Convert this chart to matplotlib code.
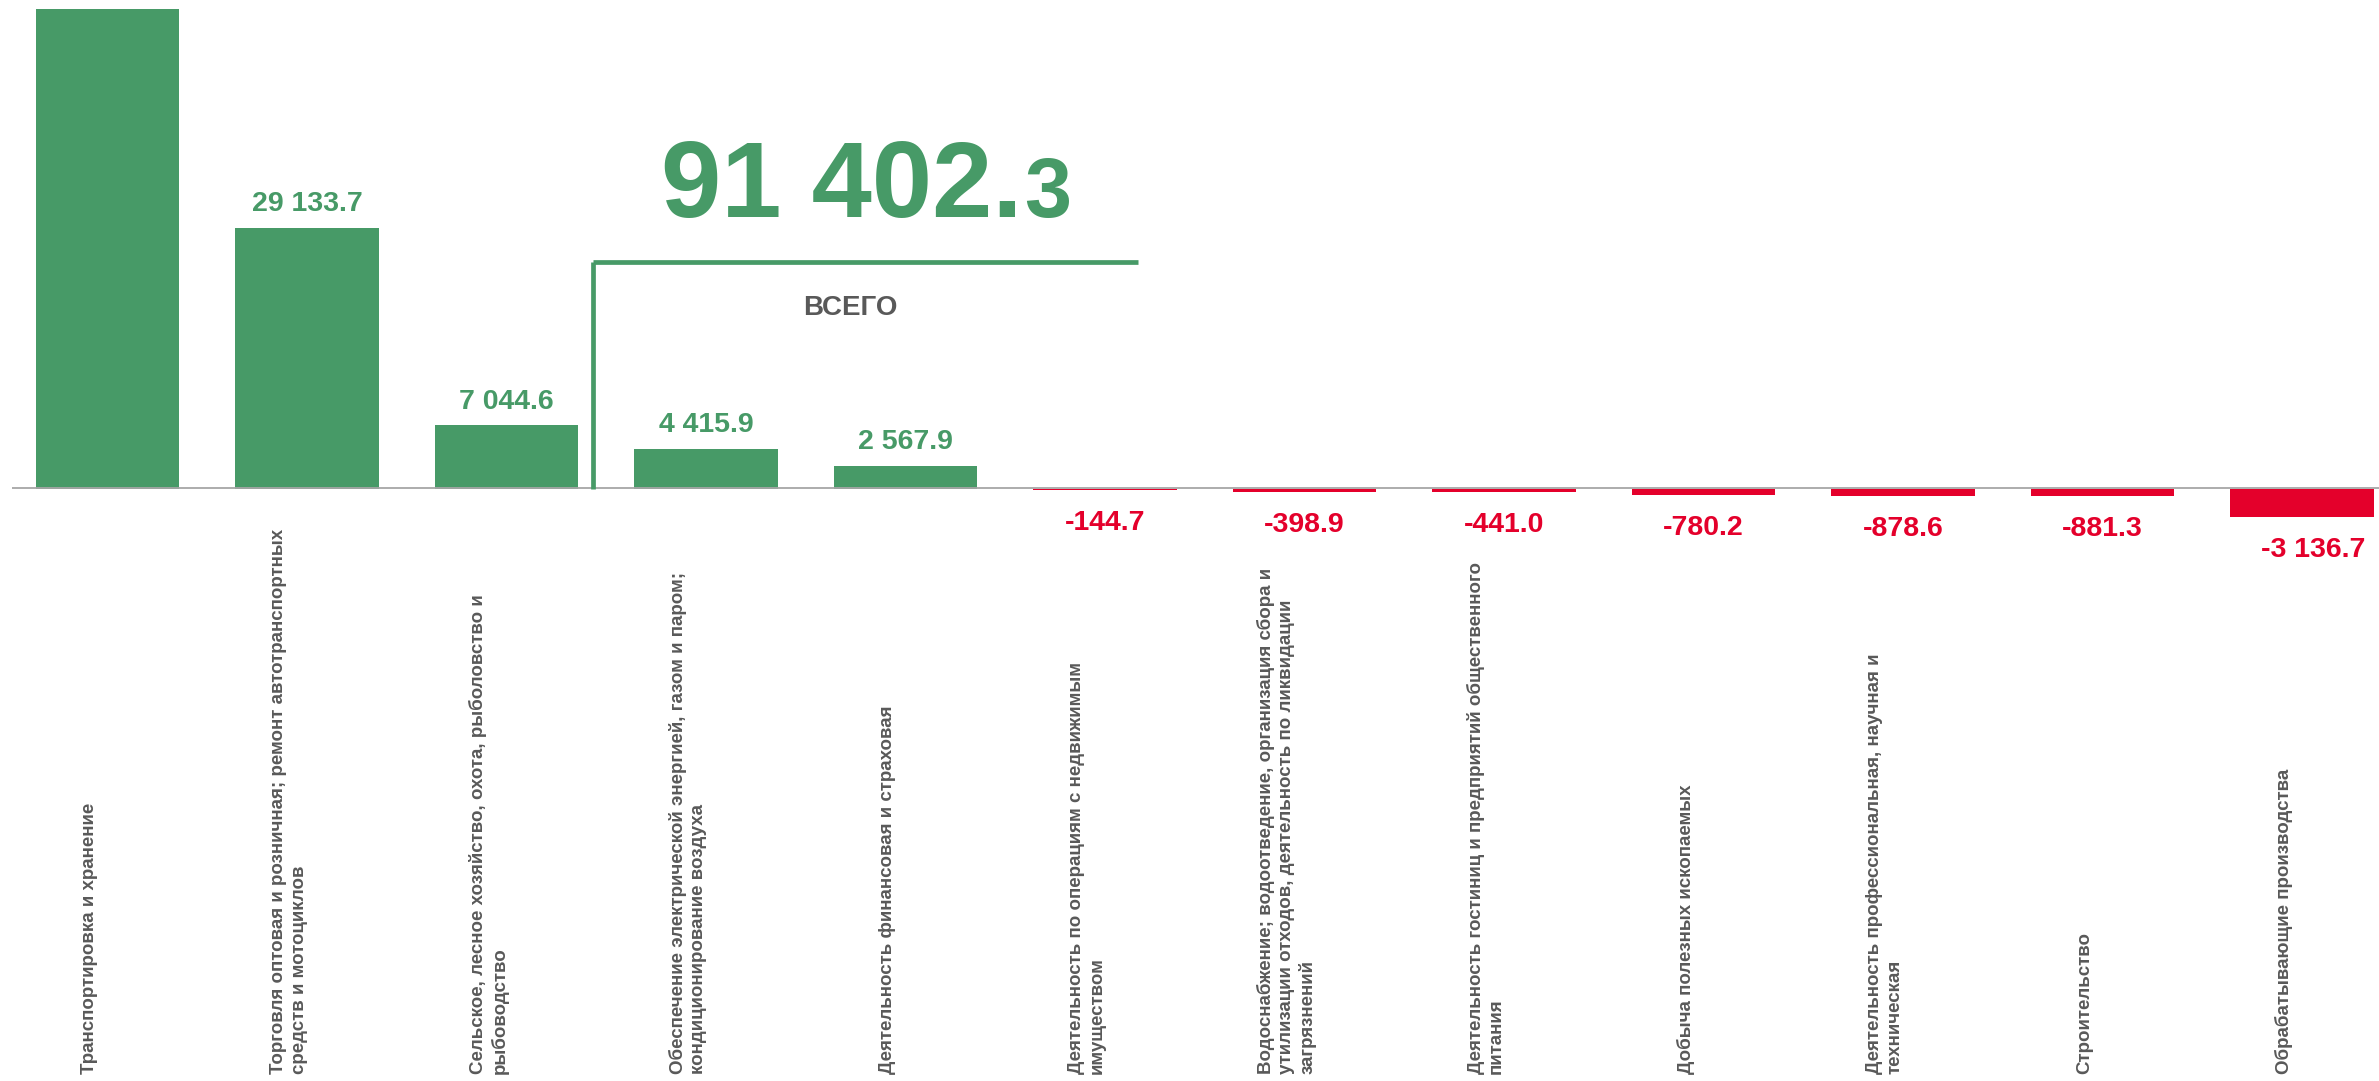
import matplotlib
matplotlib.use('Agg')
import matplotlib.pyplot as plt
import matplotlib.transforms as mtransforms
import numpy as np

plt.rcParams['font.family'] = ['Liberation Sans', 'DejaVu Sans']

# данные
categories = [
    'Транспортировка и хранение',
    'Торговля оптовая и розничная; ремонт автотранспортных\nсредств и мотоциклов',
    'Сельское, лесное хозяйство, охота, рыболовство и\nрыбоводство',
    'Обеспечение электрической энергией, газом и паром;\nкондиционирование воздуха',
    'Деятельность финансовая и страховая',
    'Деятельность по операциям с недвижимым\nимуществом',
    'Водоснабжение; водоотведение, организация сбора и\nутилизации отходов, деятельность по ликвидации\nзагрязнений',
    'Деятельность гостиниц и предприятий общественного\nпитания',
    'Добыча полезных ископаемых',
    'Деятельность профессиональная, научная и\nтехническая',
    'Строительство',
    'Обрабатывающие производства',
]
values = [54901.6, 29133.7, 7044.6, 4415.9, 2567.9, -144.7, -398.9,
          -441.0, -780.2, -878.6, -881.3, -3136.7]
total_main = '91 402.'
total_tail = '3'
total_label = 'ВСЕГО'

GREEN = '#479A67'
RED = '#E4002B'
GRAY = '#595959'

W, H = 2379, 1081
fig = plt.figure(figsize=(W / 100, H / 100), dpi=100)
# оси: сверху y=9px, ноль на 488px, 8.95 px на 1000
px_per_unit = 8.95 / 1000
y_top = (488.5 - 9) / px_per_unit
y_bot = -5000
ax_h = (y_top - y_bot) * px_per_unit
ax = fig.add_axes([12 / W, 1 - (9 + ax_h) / H, (W - 12) / W, ax_h / H])
ax.set_xlim(-0.479, 11.386)
ax.set_ylim(y_bot, y_top)
ax.axis('off')

x = np.arange(len(values))
colors = [GREEN if v >= 0 else RED for v in values]
ax.bar(x, values, width=0.72, color=colors, zorder=2)
# линия нуля чуть выше нуля, чтобы маленькие отрицательные столбцы были видны
ax.axhline(60, color='#A6A6A6', lw=1.3, zorder=3)

# подписи значений
for xi, v in zip(x, values):
    if xi == 0:
        continue  # подпись первого столбца за пределами рисунка
    s = f'{v:,.1f}'.replace(',', ' ')
    if v >= 0:
        ax.annotate(s, (xi, v), xytext=(0, 12.2), textcoords='offset points',
                    ha='center', va='baseline', fontsize=20.5, fontweight='bold',
                    color=GREEN)
    else:
        dx = 8 if xi == len(values) - 1 else 0
        ax.annotate(s, (xi, v), xytext=(dx, -28.8), textcoords='offset points',
                    ha='center', va='baseline', fontsize=20.5, fontweight='bold',
                    color=RED)

# подписи категорий (повернутые)
trans = mtransforms.blended_transform_factory(ax.transData, fig.transFigure)
for xi, lab in zip(x, categories):
    ax.text(xi - 0.09, 1 - 1074 / H, lab, transform=trans, rotation=90,
            ha='center', va='bottom', multialignment='left',
            fontsize=13.5, fontweight='bold', color=GRAY, linespacing=1.25)

# итог
def px2data(px, py):
    return (px - 107.5) / 199.5, (488.5 - py) / px_per_unit

bx0, by = px2data(593, 262)
bx1, _ = px2data(1138, 262)
ax.plot([bx0, bx1], [by, by], color=GREEN, lw=3.4, solid_capstyle='butt', zorder=3)
ax.plot([bx0, bx0], [by, 0], color=GREEN, lw=3.4, solid_capstyle='butt', zorder=3)

tx, ty = px2data(1022, 217)
ax.text(tx, ty, total_main, ha='right', va='baseline', fontsize=78,
        fontweight='bold', color=GREEN)
tx2, _ = px2data(1024, 217)
ax.text(tx2, ty, total_tail, ha='left', va='baseline', fontsize=61,
        fontweight='bold', color=GREEN)
lx, ly = px2data(850, 308)
ax.text(lx, ly, total_label, ha='center', va='center', fontsize=20,
        fontweight='bold', color=GRAY)

fig.savefig('out.png', dpi=100, facecolor='white')
